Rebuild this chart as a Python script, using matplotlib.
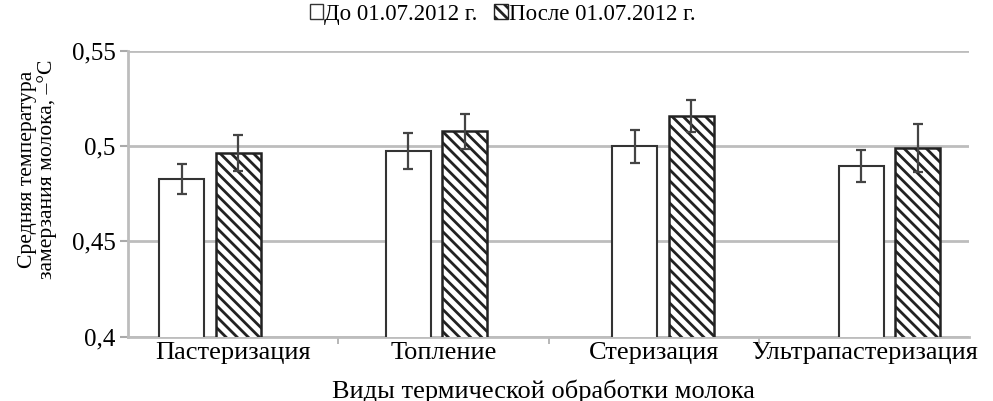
import matplotlib
matplotlib.use("Agg")
import matplotlib.pyplot as plt
import numpy as np
from matplotlib.ticker import FuncFormatter

plt.rcParams['font.family'] = ['Liberation Serif', 'DejaVu Serif']
plt.rcParams['hatch.linewidth'] = 2.0

categories = ["Пастеризация", "Топление", "Стеризация", "Ультрапастеризация"]
before = [0.4827, 0.4972, 0.4998, 0.4893]
before_err = [0.0081, 0.0095, 0.0085, 0.0084]
after = [0.4963, 0.5077, 0.5159, 0.4990]
after_err = [0.0093, 0.0092, 0.0084, 0.0125]
series_names = ["До 01.07.2012 г.", "После 01.07.2012 г."]
yticks = [0.4, 0.45, 0.5, 0.55]

fig = plt.figure(figsize=(9.93, 4.01), dpi=100)
ax = fig.add_axes([0.129, 0.160, 0.847, 0.714])

x = np.arange(len(categories))
# bar groups in the reference are spread slightly wider than the category slots
group = x * 1.077 - 0.11
w = 0.214
off = 0.135
ekw = dict(ecolor='#444444', elinewidth=1.6, capsize=3.8, capthick=1.6)
ax.bar(group - off, before, w, yerr=before_err, color='white', edgecolor='#333333',
       linewidth=1.5, label=series_names[0], error_kw=ekw, zorder=3)
ax.bar(group + off, after, w, yerr=after_err, color='white', edgecolor='#222222',
       linewidth=1.8, hatch='\\\\\\', label=series_names[1], error_kw=ekw, zorder=3)

ax.set_xlim(-0.5, len(categories) - 0.5)
ax.set_ylim(0.4, 0.55)
ax.set_yticks(yticks)
ax.yaxis.set_major_formatter(FuncFormatter(lambda v, p: ('%g' % round(v, 3)).replace('.', ',')))
ax.grid(axis='y', color='#bdbdbd', linewidth=2, zorder=0)
ax.set_axisbelow(True)

ax.set_xticks(x)
ax.set_xticklabels(categories, fontsize=19)
ax.set_xticks(x[:-1] + 0.5, minor=True)
ax.tick_params(axis='x', which='major', length=0, pad=4)
ax.tick_params(axis='x', which='minor', length=5, color='#aaaaaa', width=1.2)
ax.tick_params(axis='y', length=6, color='#aaaaaa', width=1.5, labelsize=18, pad=3)

for s in ['top', 'right']:
    ax.spines[s].set_visible(False)
for s in ['left', 'bottom']:
    ax.spines[s].set_color('#bdbdbd')
    ax.spines[s].set_linewidth(2)

ax.set_xlabel("Виды термической обработки молока", fontsize=19, labelpad=0)
ax.xaxis.set_label_coords(0.494, -0.148)
ax.set_ylabel("Средняя температура\nзамерзания молока, \u2013°С", fontsize=15.6, linespacing=1.05)
ax.yaxis.set_label_coords(-0.084, 0.584)

leg = fig.legend(loc='center', bbox_to_anchor=(0.506, 0.965), ncol=2, frameon=False,
                 fontsize=16.5, handlelength=0.6, handleheight=0.6, handletextpad=0.05,
                 columnspacing=0.7)
for h in leg.legend_handles:
    h.set_linewidth(1.0)

fig.savefig("out.png", dpi=100)
